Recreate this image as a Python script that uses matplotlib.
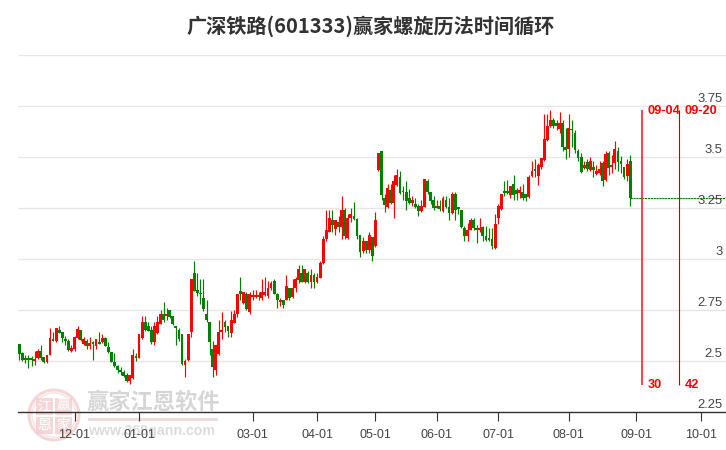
import matplotlib
matplotlib.use('Agg')
from matplotlib import pyplot as plt
from matplotlib.patches import Circle, Rectangle

plt.rcParams['font.family'] = ['Liberation Sans', 'Noto Sans CJK SC', 'DejaVu Sans']

opens = [2.585, 2.54, 2.51, 2.51, 2.51, 2.50, 2.515, 2.55, 2.518, 2.497,
         2.528, 2.605, 2.60, 2.65, 2.64, 2.61, 2.60, 2.55, 2.557, 2.615,
         2.65, 2.583, 2.60, 2.574, 2.59, 2.574, 2.595, 2.595, 2.615, 2.567,
         2.545, 2.497, 2.475, 2.456, 2.447, 2.43, 2.40, 2.415, 2.52, 2.515,
         2.615, 2.69, 2.67, 2.65, 2.595, 2.635, 2.68, 2.73, 2.72, 2.75,
         2.72, 2.667, 2.65, 2.63, 2.478, 2.505, 2.64, 2.93, 2.848, 2.83,
         2.807, 2.73, 2.69, 2.559, 2.456, 2.534, 2.64, 2.693, 2.67, 2.635,
         2.688, 2.73, 2.845, 2.785, 2.828, 2.742, 2.815, 2.815, 2.82, 2.807,
         2.823, 2.82, 2.856, 2.892, 2.83, 2.79, 2.80, 2.80, 2.856, 2.815,
         2.856, 2.897, 2.93, 2.885, 2.93, 2.888, 2.92, 2.888, 2.908, 2.978,
         3.10, 3.13, 3.19, 3.147, 3.18, 3.158, 3.24, 3.104, 3.20, 3.21,
         3.198, 3.117, 3.039, 3.088, 3.044, 3.106, 3.065, 3.436, 3.529, 3.297,
         3.256, 3.338, 3.276, 3.362, 3.40, 3.33, 3.326, 3.297, 3.276, 3.268,
         3.26, 3.235, 3.256, 3.382, 3.326, 3.29, 3.25, 3.26, 3.236, 3.29,
         3.256, 3.224, 3.318, 3.25, 3.24, 3.153, 3.112, 3.142, 3.19, 3.15,
         3.14, 3.158, 3.115, 3.10, 3.096, 3.055, 3.20, 3.243, 3.327, 3.33,
         3.313, 3.367, 3.338, 3.325, 3.33, 3.318, 3.305, 3.406, 3.44, 3.406,
         3.45, 3.485, 3.583, 3.65, 3.68, 3.668, 3.635, 3.665, 3.547, 3.537,
         3.635, 3.616, 3.529, 3.50, 3.444, 3.477, 3.436, 3.45, 3.416, 3.42,
         3.472, 3.387, 3.52, 3.45, 3.472, 3.529, 3.48, 3.449, 3.406, 3.48]
closes = [2.535, 2.505, 2.505, 2.505, 2.505, 2.51, 2.55, 2.515, 2.497, 2.528,
          2.615, 2.60, 2.66, 2.635, 2.615, 2.60, 2.555, 2.565, 2.616, 2.655,
          2.605, 2.606, 2.575, 2.587, 2.585, 2.606, 2.585, 2.615, 2.575, 2.545,
          2.497, 2.475, 2.456, 2.447, 2.425, 2.40, 2.43, 2.53, 2.515, 2.63,
          2.69, 2.65, 2.647, 2.595, 2.67, 2.69, 2.73, 2.70, 2.73, 2.717,
          2.68, 2.664, 2.61, 2.485, 2.50, 2.63, 2.90, 2.845, 2.832, 2.827,
          2.755, 2.70, 2.595, 2.47, 2.577, 2.642, 2.652, 2.665, 2.647, 2.70,
          2.73, 2.828, 2.827, 2.84, 2.755, 2.828, 2.825, 2.825, 2.815, 2.836,
          2.836, 2.856, 2.88, 2.83, 2.80, 2.80, 2.775, 2.867, 2.807, 2.856,
          2.90, 2.95, 2.888, 2.95, 2.888, 2.92, 2.888, 2.91, 2.978, 3.096,
          3.142, 3.20, 3.166, 3.19, 3.158, 3.24, 3.112, 3.20, 3.22, 3.196,
          3.112, 3.035, 3.088, 3.044, 3.117, 3.016, 3.19, 3.518, 3.315, 3.264,
          3.346, 3.276, 3.382, 3.41, 3.325, 3.326, 3.285, 3.276, 3.29, 3.256,
          3.236, 3.26, 3.39, 3.326, 3.285, 3.248, 3.26, 3.247, 3.297, 3.256,
          3.227, 3.318, 3.24, 3.246, 3.158, 3.112, 3.142, 3.19, 3.15, 3.14,
          3.15, 3.112, 3.095, 3.095, 3.065, 3.17, 3.26, 3.318, 3.323, 3.323,
          3.357, 3.313, 3.32, 3.34, 3.297, 3.297, 3.40, 3.43, 3.43, 3.46,
          3.493, 3.586, 3.65, 3.68, 3.65, 3.65, 3.668, 3.547, 3.534, 3.64,
          3.63, 3.534, 3.493, 3.428, 3.46, 3.44, 3.48, 3.436, 3.432, 3.44,
          3.38, 3.517, 3.444, 3.46, 3.537, 3.477, 3.465, 3.40, 3.464, 3.297]
highs = [2.585, 2.545, 2.53, 2.53, 2.525, 2.55, 2.56, 2.58, 2.52, 2.53,
         2.66, 2.64, 2.66, 2.67, 2.64, 2.625, 2.61, 2.58, 2.625, 2.67,
         2.65, 2.62, 2.61, 2.62, 2.60, 2.61, 2.64, 2.63, 2.62, 2.595,
         2.545, 2.54, 2.48, 2.47, 2.455, 2.44, 2.43, 2.56, 2.54, 2.63,
         2.72, 2.72, 2.69, 2.67, 2.69, 2.72, 2.75, 2.79, 2.76, 2.75,
         2.72, 2.67, 2.66, 2.63, 2.51, 2.63, 2.90, 2.99, 2.93, 2.90,
         2.90, 2.80, 2.69, 2.60, 2.577, 2.70, 2.74, 2.70, 2.67, 2.745,
         2.75, 2.83, 2.91, 2.84, 2.84, 2.84, 2.85, 2.85, 2.84, 2.90,
         2.91, 2.89, 2.89, 2.90, 2.835, 2.81, 2.80, 2.92, 2.86, 2.90,
         2.91, 2.97, 2.97, 2.95, 2.94, 2.95, 2.93, 2.93, 2.99, 3.115,
         3.24, 3.24, 3.24, 3.19, 3.21, 3.31, 3.25, 3.22, 3.25, 3.28,
         3.20, 3.12, 3.11, 3.09, 3.13, 3.11, 3.23, 3.518, 3.53, 3.32,
         3.37, 3.37, 3.41, 3.44, 3.43, 3.36, 3.38, 3.345, 3.31, 3.30,
         3.27, 3.29, 3.39, 3.39, 3.33, 3.31, 3.29, 3.29, 3.31, 3.31,
         3.30, 3.33, 3.33, 3.25, 3.24, 3.16, 3.175, 3.20, 3.20, 3.165,
         3.20, 3.16, 3.16, 3.15, 3.15, 3.22, 3.27, 3.32, 3.38, 3.385,
         3.36, 3.41, 3.35, 3.36, 3.37, 3.32, 3.41, 3.48, 3.49, 3.47,
         3.49, 3.71, 3.71, 3.73, 3.69, 3.68, 3.72, 3.68, 3.64, 3.71,
         3.68, 3.63, 3.54, 3.52, 3.48, 3.49, 3.50, 3.48, 3.46, 3.48,
         3.48, 3.53, 3.53, 3.51, 3.576, 3.55, 3.505, 3.45, 3.49, 3.51]
lows = [2.505, 2.50, 2.49, 2.465, 2.475, 2.48, 2.51, 2.505, 2.49, 2.49,
        2.528, 2.60, 2.595, 2.635, 2.595, 2.58, 2.55, 2.545, 2.55, 2.61,
        2.60, 2.58, 2.56, 2.56, 2.505, 2.56, 2.585, 2.59, 2.575, 2.54,
        2.495, 2.47, 2.44, 2.43, 2.42, 2.395, 2.385, 2.41, 2.50, 2.515,
        2.61, 2.645, 2.645, 2.585, 2.58, 2.63, 2.68, 2.69, 2.70, 2.71,
        2.675, 2.58, 2.60, 2.48, 2.42, 2.50, 2.62, 2.845, 2.82, 2.78,
        2.745, 2.69, 2.53, 2.42, 2.43, 2.53, 2.61, 2.64, 2.62, 2.62,
        2.685, 2.715, 2.80, 2.78, 2.75, 2.73, 2.80, 2.81, 2.80, 2.80,
        2.82, 2.81, 2.85, 2.83, 2.76, 2.77, 2.76, 2.80, 2.80, 2.81,
        2.84, 2.88, 2.885, 2.88, 2.88, 2.86, 2.86, 2.88, 2.905, 2.975,
        3.09, 3.13, 3.13, 3.12, 3.13, 3.10, 3.10, 3.10, 3.18, 3.19,
        3.10, 3.01, 3.03, 3.03, 3.03, 2.99, 3.06, 3.43, 3.29, 3.23,
        3.25, 3.27, 3.20, 3.36, 3.32, 3.29, 3.24, 3.27, 3.26, 3.25,
        3.21, 3.23, 3.255, 3.32, 3.27, 3.24, 3.25, 3.235, 3.23, 3.25,
        3.19, 3.22, 3.19, 3.22, 3.15, 3.09, 3.09, 3.14, 3.14, 3.08,
        3.13, 3.09, 3.09, 3.09, 3.05, 3.05, 3.17, 3.24, 3.31, 3.32,
        3.30, 3.29, 3.29, 3.30, 3.29, 3.285, 3.30, 3.40, 3.40, 3.365,
        3.44, 3.48, 3.58, 3.645, 3.64, 3.63, 3.62, 3.53, 3.49, 3.50,
        3.55, 3.52, 3.48, 3.42, 3.44, 3.43, 3.43, 3.40, 3.41, 3.41,
        3.36, 3.38, 3.41, 3.42, 3.44, 3.43, 3.42, 3.39, 3.38, 3.26]

price_ticks = [2.25, 2.5, 2.75, 3, 3.25, 3.5, 3.75, 4]
price_labels = ['2.25', '2.5', '2.75', '3', '3.25', '3.5', '3.75', '']
date_ticks = [18, 39, 76, 97, 116, 136, 156, 179, 201, 222]
date_labels = ['12-01', '01-01', '03-01', '04-01', '05-01', '06-01', '07-01', '08-01', '09-01', '10-01']
cycle_bars = [203, 215]
cycle_dates = ['09-04', '09-20']
cycle_counts = ['30', '42']

RED = '#ff0000'
GREEN = '#008000'

fig = plt.figure(figsize=(7.26, 4.5), dpi=100)
ax = fig.add_axes([18 / 726, 38 / 450, 708 / 726, 357 / 450])
ax.set_xlim(-0.42, 230.2)
ax.set_ylim(2.25, 4.0)
for s in ['top', 'left', 'right']:
    ax.spines[s].set_visible(False)
ax.spines['bottom'].set_color('#333333')
ax.spines['bottom'].set_linewidth(1.0)
ax.spines['bottom'].set_zorder(6)

ax.set_yticks(price_ticks)
ax.set_yticklabels([])
ax.tick_params(axis='y', length=0)
ax.grid(axis='y', color='#e6e6e6', linewidth=1.0)
ax.set_axisbelow(True)
ax.set_xticks(date_ticks)
ax.set_xticklabels(date_labels, fontsize=9, color='#444444')
ax.tick_params(axis='x', length=6.5, width=0.8, color='#333333', pad=5.5)

# labels float a little above their grid lines
for p, lab in zip(price_ticks, price_labels):
    ax.annotate(lab, (1, p), xycoords=('axes fraction', 'data'), xytext=(-2.5, 5),
                textcoords='offset points', ha='right', va='center',
                fontsize=9.4, color='#444444', zorder=7)

# candles
for i, (o, c, h, l) in enumerate(zip(opens, closes, highs, lows)):
    col = RED if c >= o else GREEN
    ax.vlines(i, l, h, color=col, linewidth=0.85, zorder=3)
    ax.bar(i, max(abs(c - o), 0.008), bottom=min(o, c), width=0.92, color=col, linewidth=0, zorder=4)

# last close carried forward
ax.hlines(closes[-1], len(closes) - 1, 230.2, color=GREEN, linewidth=0.8, linestyles=(0, (2, 0.6)), zorder=3)

# time cycle lines
line_top = 3.73
line_bot = 2.382
ax.vlines(cycle_bars[0], line_bot, line_top, color='#ff2020', linewidth=1.2, zorder=5)
ax.vlines(cycle_bars[1], line_bot, line_top, color='#c80000', linewidth=0.8, zorder=5)
for b, d, n in zip(cycle_bars, cycle_dates, cycle_counts):
    ax.annotate(d, (b, line_top), xytext=(3.6, -1), textcoords='offset points', ha='left', va='center',
                fontsize=9.2, fontweight='bold', color=RED, zorder=8)
    ax.annotate(n, (b, line_bot), xytext=(3.6, 0), textcoords='offset points', ha='left', va='center',
                fontsize=9.2, fontweight='bold', color=RED, zorder=8)

fig.text(371 / 726, 1 - 26 / 450, '广深铁路(601333)赢家螺旋历法时间循环', ha='center', va='center',
         fontsize=14.5, fontweight='bold', color='#333333',
         family=['Noto Sans CJK SC', 'DejaVu Sans'])

# watermark, drawn in figure pixels
over = fig.add_axes([0, 0, 1, 1], zorder=-1)
over.set_xlim(0, 726)
over.set_ylim(450, 0)
over.axis('off')
over.add_patch(Circle((54, 415), 25, fill=False, ec='#f4d8d8', lw=2.2))
over.add_patch(Circle((54, 415), 22, fill=False, ec='#f8e6e6', lw=1.2))
seal_chars = [('江', 44, 406), ('赢', 63, 406), ('恩', 44, 425), ('家', 63, 425)]
for ch, sx, sy in seal_chars:
    over.add_patch(Rectangle((sx - 8.5, sy - 8.5), 17, 17, fc='#f0c8c8', ec='none', alpha=0.7))
    over.text(sx, sy, ch, ha='center', va='center', fontsize=10, color='white',
              family=['Noto Sans CJK SC', 'DejaVu Sans'])
over.text(153, 402, '赢家江恩软件', ha='center', va='center', fontsize=16, fontweight='bold',
          color='#d6d6d6', family=['Noto Sans CJK SC', 'DejaVu Sans'])
over.add_patch(Rectangle((88, 418), 130, 3, fc='#ecdcdc', ec='none'))
over.text(152, 431, 'www.360gann.com', ha='center', va='center', fontsize=10.2, fontweight='bold',
          color='#dcdcdc', family=['Liberation Sans'])

ax.patch.set_alpha(0)
fig.savefig('out.png', dpi=100)
